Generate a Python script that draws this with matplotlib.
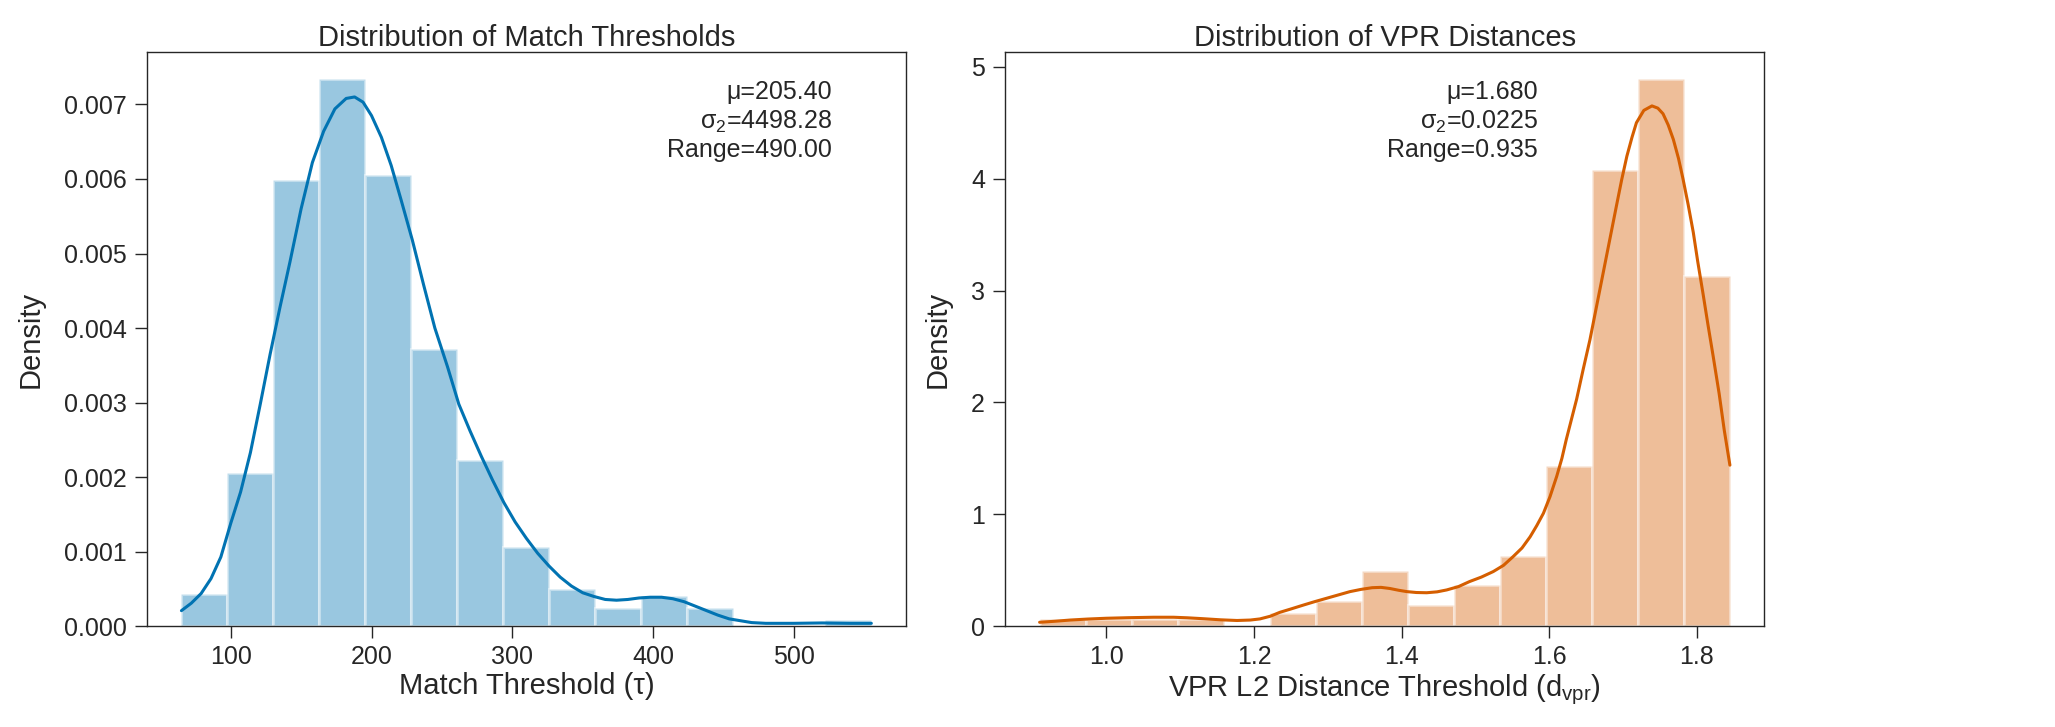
import numpy as np
import matplotlib
matplotlib.use("Agg")
import matplotlib.pyplot as plt

# ---------------- data ----------------
# Match thresholds (tau): 15 histogram bins, density
tau_min, tau_max = 65.0, 555.0
tau_density = [0.00043, 0.00205, 0.00599, 0.00734, 0.00605, 0.00372, 0.00223,
               0.00107, 0.00050, 0.000247, 0.000413, 0.000247, 0.0, 0.0, 0.00008]
tau_kde_x = [65, 72, 79, 86, 93, 100, 107, 114, 121, 128, 135, 142, 150, 158, 166,
             174, 182, 188, 194, 200, 207, 214, 221, 229, 237, 245, 254, 262, 270,
             278, 286, 294, 302, 310, 318, 326, 334, 342, 350, 358, 366, 374, 382,
             390, 398, 406, 414, 422, 430, 438, 446, 454, 462, 470, 480, 500, 520,
             540, 555]
tau_kde_y = [0.00021, 0.00031, 0.00044, 0.00064, 0.00093, 0.00138, 0.00180, 0.00233,
             0.00298, 0.00365, 0.00428, 0.00488, 0.00560, 0.00622, 0.00664, 0.00694,
             0.00708, 0.00710, 0.00703, 0.00685, 0.00656, 0.00618, 0.00572, 0.00518,
             0.00458, 0.00400, 0.00348, 0.00298, 0.00262, 0.00228, 0.00196, 0.00166,
             0.00140, 0.00118, 0.00098, 0.00081, 0.00066, 0.00054, 0.00045, 0.00040,
             0.00036, 0.00035, 0.00036, 0.00038, 0.00039, 0.00039, 0.00037, 0.00033,
             0.00027, 0.00021, 0.00015, 0.00010, 0.000075, 0.00005, 0.00004, 0.00004,
             0.000045, 0.00004, 0.00004]
tau_stats = "\u03bc=205.40\n\u03c3$_2$=4498.28\nRange=490.00"

# VPR L2 distances: 15 histogram bins, density
vpr_min, vpr_max = 0.9096, 1.8446
vpr_density = [0.061, 0.061, 0.061, 0.061, 0.0, 0.122, 0.23, 0.495, 0.19, 0.365,
               0.63, 1.435, 4.076, 4.89, 3.127]
vpr_kde_x = [0.9096, 0.93, 0.951, 0.975, 1.0, 1.03, 1.064, 1.091, 1.11, 1.131, 1.155,
             1.177, 1.195, 1.208, 1.222, 1.235, 1.25, 1.267, 1.282, 1.298, 1.314,
             1.33, 1.345, 1.36, 1.372, 1.384, 1.396, 1.407, 1.42, 1.434, 1.448,
             1.461, 1.477, 1.492, 1.508, 1.524, 1.538, 1.551, 1.563, 1.574, 1.583,
             1.592, 1.601, 1.610, 1.617, 1.623, 1.630, 1.637, 1.646, 1.655, 1.664,
             1.673, 1.682, 1.691, 1.698, 1.705, 1.712, 1.718, 1.728, 1.739, 1.747,
             1.754, 1.761, 1.768, 1.775, 1.781, 1.788, 1.795, 1.801, 1.808, 1.815,
             1.822, 1.830, 1.837, 1.8446]
vpr_kde_y = [0.036, 0.045, 0.056, 0.065, 0.072, 0.077, 0.081, 0.081, 0.076, 0.068,
             0.058, 0.052, 0.056, 0.066, 0.090, 0.125, 0.155, 0.19, 0.22, 0.25,
             0.28, 0.31, 0.33, 0.345, 0.348, 0.338, 0.322, 0.31, 0.302, 0.30,
             0.308, 0.325, 0.355, 0.40, 0.44, 0.489, 0.545, 0.623, 0.70, 0.80,
             0.90, 1.01, 1.16, 1.34, 1.50, 1.67, 1.85, 2.03, 2.30, 2.56,
             2.86, 3.16, 3.46, 3.76, 3.99, 4.20, 4.37, 4.50, 4.61, 4.65,
             4.63, 4.58, 4.48, 4.35, 4.18, 4.00, 3.77, 3.52, 3.26, 2.98,
             2.69, 2.41, 2.08, 1.75, 1.44]
vpr_stats = "\u03bc=1.680\n\u03c3$_2$=0.0225\nRange=0.935"

# ---------------- style ----------------
plt.rcParams['font.family'] = ['Liberation Sans', 'DejaVu Sans']
plt.rcParams['mathtext.fontset'] = 'custom'
plt.rcParams['mathtext.rm'] = 'Liberation Sans'
plt.rcParams['mathtext.it'] = 'Liberation Sans'
plt.rcParams['mathtext.default'] = 'regular'
dark = '#262626'
plt.rcParams['text.color'] = dark
plt.rcParams['axes.labelcolor'] = dark
plt.rcParams['xtick.color'] = dark
plt.rcParams['ytick.color'] = dark
plt.rcParams['axes.edgecolor'] = dark

TICK_FS = 18
LABEL_FS = 21

fig = plt.figure(figsize=(20.55, 7.27), dpi=100)
ax1 = fig.add_axes([0.0715, 0.1385, 0.3693, 0.7904])
ax2 = fig.add_axes([0.4891, 0.1385, 0.3695, 0.7904])


def draw(ax, vmin, vmax, dens, kx, ky, color, stats, sx, title, xlabel):
    n = len(dens)
    edges = np.linspace(vmin, vmax, n + 1)
    ax.bar(edges[:-1], dens, width=np.diff(edges), align='edge',
           color=color, alpha=0.4, edgecolor='white', linewidth=2.2)
    ax.plot(kx, ky, color=color, linewidth=2.2, solid_joinstyle='round',
            solid_capstyle='round')
    ax.set_title(title, fontsize=LABEL_FS, pad=4)
    ax.set_xlabel(xlabel, fontsize=LABEL_FS, labelpad=2.5)
    ax.set_ylabel('Density', fontsize=LABEL_FS, labelpad=14)
    ax.tick_params(axis='both', labelsize=TICK_FS, length=8.6, width=1.0)
    ax.tick_params(axis='x', pad=4.5)
    ax.tick_params(axis='y', pad=5.8)
    for s in ax.spines.values():
        s.set_linewidth(1.0)
    ax.text(sx, 0.95, stats, transform=ax.transAxes, ha='right', va='top',
            fontsize=TICK_FS, multialignment='right')


draw(ax1, tau_min, tau_max, tau_density, tau_kde_x, tau_kde_y, '#0173b2',
     tau_stats, 0.9025, 'Distribution of Match Thresholds', 'Match Threshold (\u03c4)')
draw(ax2, vpr_min, vpr_max, vpr_density, vpr_kde_x, vpr_kde_y, '#d55e00',
     vpr_stats, 0.702, 'Distribution of VPR Distances',
     'VPR L2 Distance Threshold (d$_{vpr}$)')

ax1.set_yticks([0, 0.001, 0.002, 0.003, 0.004, 0.005, 0.006, 0.007])
ax1.set_yticklabels(['0.000', '0.001', '0.002', '0.003', '0.004', '0.005', '0.006', '0.007'])
ax1.set_xticks([100, 200, 300, 400, 500])
ax2.set_xticks([1.0, 1.2, 1.4, 1.6, 1.8])
ax2.set_xticklabels(['1.0', '1.2', '1.4', '1.6', '1.8'])
ax2.set_yticks([0, 1, 2, 3, 4, 5])

fig.savefig('out.png', dpi=100)
